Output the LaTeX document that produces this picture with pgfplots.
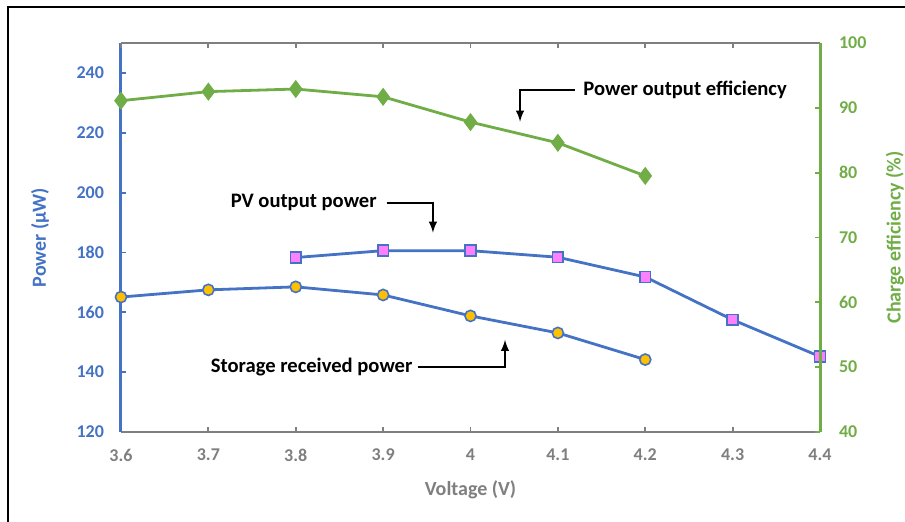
\documentclass[border=0pt]{standalone}
\usepackage{fontspec}
\setmainfont{Carlito}
\usepackage{pgfplots}
\pgfplotsset{compat=1.18}

\definecolor{xblue}{HTML}{4472C4}
\definecolor{xgreen}{HTML}{70AD47}
\definecolor{xorange}{HTML}{FFC000}
\definecolor{xpink}{HTML}{FF80FF}
\definecolor{xgray}{HTML}{7F7F7F}

\pgfplotsset{
  base/.style={
    scale only axis, width=349.5pt, height=194.5pt,
    xmin=3.6, xmax=4.4,
    xtick={3.6,3.7,...,4.4},
    tick align=inside,
    major tick length=2.5pt,
    /pgf/number format/assume math mode=true,
    ticklabel style={font=\fontsize{9}{10}\selectfont\bfseries},
    label style={font=\fontsize{10}{12}\selectfont\bfseries},
    xtick style={xgray, line width=0.9pt},
    x axis line style={xgray, line width=1.1pt, -},
    y axis line style={-},
  },
}

\begin{document}
\begin{tikzpicture}
\path[use as bounding box] (-60.5pt,-45pt) rectangle (392pt,216pt);
\draw[black, line width=1pt] (-56.5pt,-45pt) -- (-56.5pt,212.5pt) -- (392pt,212.5pt);

% left axis: power
\begin{axis}[base,
    axis x line*=bottom, axis y line*=left,
    ymin=120, ymax=250, ytick={120,140,...,240},
    y axis line style={xblue, line width=1.5pt},
    ytick style={xblue, line width=0.9pt},
    yticklabel style={xblue, xshift=-5pt},
    xticklabel style={xgray, yshift=-5pt},
    xticklabels={3.6,3.7,3.8,3.9,4,4.1,4.2,4.3,4.4},
    xlabel={Voltage (V)},
    xlabel style={xgray, at={(axis description cs:0.5,0)}, anchor=center, yshift=-29pt},
    ylabel={Power (µW)},
    ylabel style={xblue, at={([xshift=-40.5pt]axis description cs:0,0.5)}, anchor=center},
    clip=false,
  ]
  % PV output power
  \addplot[xblue, line width=1.4pt, mark=square*, mark size=2.7pt,
           mark options={fill=xpink, draw=xblue, line width=0.8pt}]
    coordinates {(3.8,178.3) (3.9,180.6) (4.0,180.6) (4.1,178.4) (4.2,171.8) (4.3,157.5) (4.4,145.2)};
  % Storage received power
  \addplot[xblue, line width=1.4pt, mark=*, mark size=2.8pt,
           mark options={fill=xorange, draw=xblue, line width=0.8pt}]
    coordinates {(3.6,165.1) (3.7,167.5) (3.8,168.5) (3.9,165.8) (4.0,158.8) (4.1,153.1) (4.2,144.2)};

  % annotations
  \node[anchor=east, font=\fontsize{10.3}{12}\selectfont\bfseries, inner sep=0pt]
    at (axis cs:3.893,196.6) {PV output power};
  \draw[black, line width=0.9pt, -latex] (axis cs:3.904,196.6) -- (axis cs:3.957,196.6) -- (axis cs:3.957,186.6);
  \node[anchor=east, font=\fontsize{10.3}{12}\selectfont\bfseries, inner sep=0pt]
    at (axis cs:3.934,141.7) {Storage received power};
  \draw[black, line width=0.9pt, -latex] (axis cs:3.940,141.7) -- (axis cs:4.0395,141.7) -- (axis cs:4.0395,150.8);
  \node[anchor=west, font=\fontsize{10.3}{12}\selectfont\bfseries, inner sep=0pt]
    at (axis cs:4.1288,234.4) {Power output efficiency};
  \draw[black, line width=0.9pt, -latex] (axis cs:4.1196,234.4) -- (axis cs:4.0567,234.4) -- (axis cs:4.0567,223.7);
\end{axis}

% right axis: efficiency
\begin{axis}[base,
    axis x line*=top, axis y line*=right,
    ymin=40, ymax=100, ytick={40,50,...,100},
    xticklabels={},
    y axis line style={xgreen, line width=1.5pt},
    ytick style={xgreen, line width=0.9pt},
    yticklabel style={xgreen, xshift=6pt},
    ylabel={Charge efficiency (\%)},
    ylabel style={xgreen, at={([xshift=37.5pt]axis description cs:1,0.5)}, anchor=center},
    clip=false,
  ]
  \addplot[xgreen, line width=1.4pt, mark=diamond*, mark size=3.4pt,
           mark options={fill=xgreen, draw=xgreen}]
    coordinates {(3.6,91.1) (3.7,92.5) (3.8,92.9) (3.9,91.7) (4.0,87.8) (4.1,84.6) (4.2,79.5)};
\end{axis}
\end{tikzpicture}
\end{document}
